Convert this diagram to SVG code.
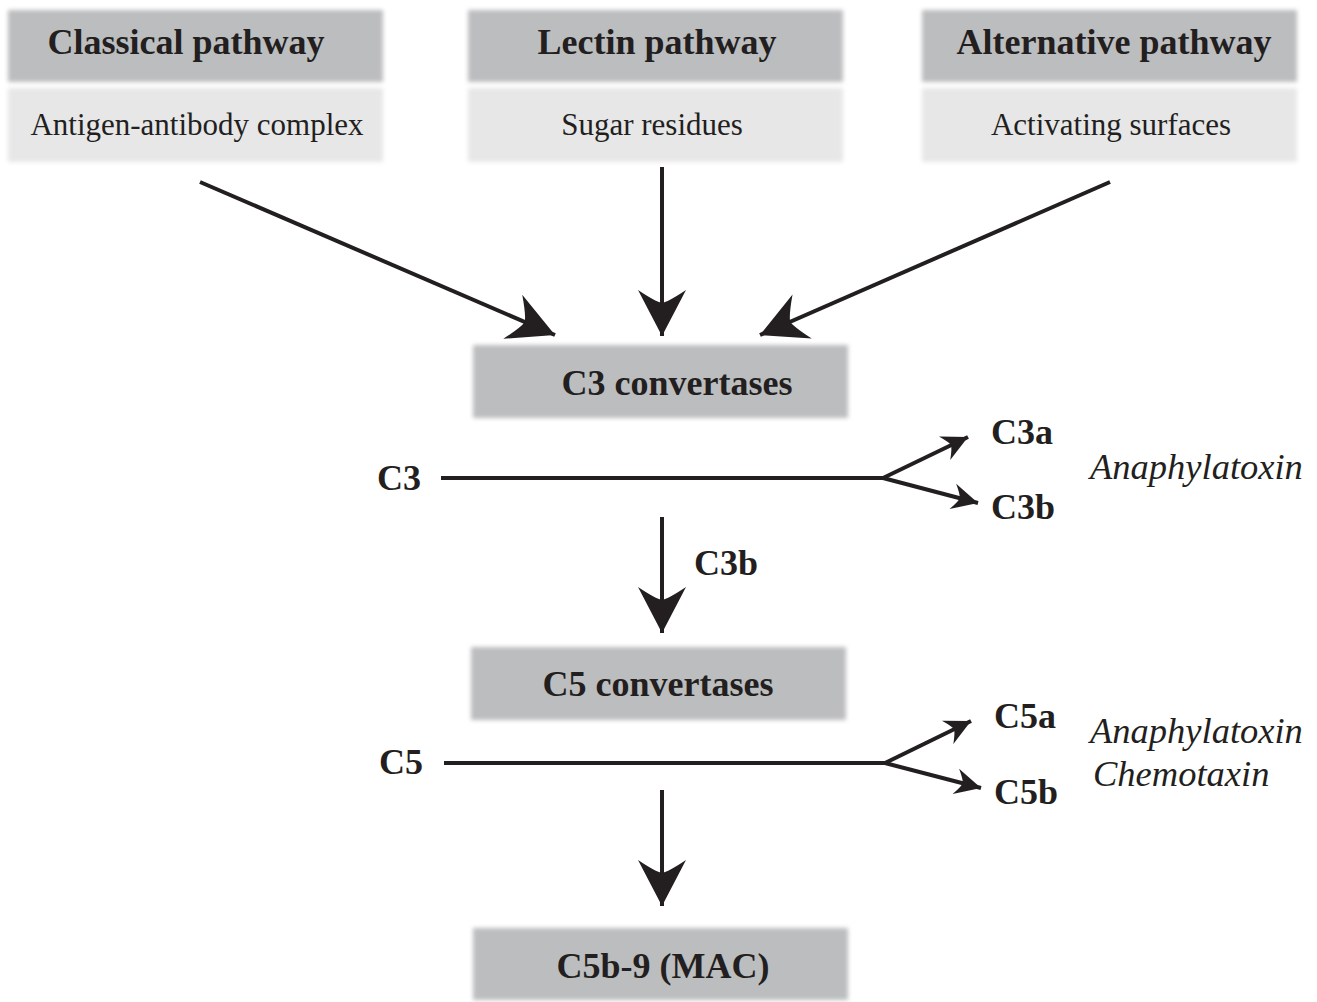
<svg xmlns="http://www.w3.org/2000/svg" width="1317" height="1002" viewBox="0 0 1317 1002">
<defs>
<filter id="soft" x="-5%" y="-20%" width="110%" height="140%"><feGaussianBlur stdDeviation="2.2"/></filter>
<marker id="big" markerUnits="userSpaceOnUse" markerWidth="60" markerHeight="60" viewBox="-5 -30 60 60" refX="46" refY="0" orient="auto">
<path d="M46,0 L0,-24 Q12,-6 13,0 Q12,6 0,24 Z" fill="#231f20"/>
</marker>
<marker id="small" markerUnits="userSpaceOnUse" markerWidth="40" markerHeight="40" viewBox="-5 -20 40 40" refX="26" refY="0" orient="auto">
<path d="M26,0 L0,-13 Q7,-3 7,0 Q7,3 0,13 Z" fill="#231f20"/>
</marker>
</defs>
<style>
.dark{fill:#bcbdbf;filter:url(#soft)}
.light{fill:#e7e7e8;filter:url(#soft)}
.t{font-family:"Liberation Serif","Times New Roman",serif;fill:#231f20}
.b{font-weight:bold;font-size:36px}
.r{font-size:31px}
.i{font-style:italic;font-size:36.5px}
.m{text-anchor:middle}
.ln{stroke:#231f20;stroke-width:4;fill:none}
</style>
<rect width="1317" height="1002" fill="#ffffff"/>
<g id="classical">
<rect class="dark" x="8" y="10" width="375" height="72"/>
<text class="t b m" x="186" y="54">Classical pathway</text>
<rect class="light" x="8" y="88" width="375" height="74"/>
<text class="t r m" x="197" y="135">Antigen-antibody complex</text>
</g>
<g id="lectin">
<rect class="dark" x="468" y="10" width="375" height="72"/>
<text class="t b m" x="657" y="54">Lectin pathway</text>
<rect class="light" x="468" y="88" width="375" height="74"/>
<text class="t r m" x="652" y="135">Sugar residues</text>
</g>
<g id="alternative">
<rect class="dark" x="922" y="10" width="375" height="72"/>
<text class="t b m" x="1114" y="54">Alternative pathway</text>
<rect class="light" x="922" y="88" width="375" height="74"/>
<text class="t r m" x="1111" y="135">Activating surfaces</text>
</g>
<g id="c3conv">
<rect class="dark" x="473" y="345" width="375" height="73"/>
<text class="t b m" x="677" y="395">C3 convertases</text>
</g>
<g id="c5conv">
<rect class="dark" x="471" y="647" width="375" height="73"/>
<text class="t b m" x="658" y="696">C5 convertases</text>
</g>
<g id="mac">
<rect class="dark" x="473" y="928" width="375" height="72"/>
<text class="t b m" x="663" y="978">C5b-9 (MAC)</text>
</g>
<g id="c3split">
<text class="t b" x="377" y="490">C3</text>
<text class="t b" x="991" y="444">C3a</text>
<text class="t b" x="991" y="519">C3b</text>
<text class="t i" x="1090" y="479">Anaphylatoxin</text>
</g>
<g id="c5split">
<text class="t b" x="379" y="774">C5</text>
<text class="t b" x="994" y="728">C5a</text>
<text class="t b" x="994" y="804">C5b</text>
<text class="t i" x="1090" y="743">Anaphylatoxin</text>
<text class="t i" x="1093" y="786">Chemotaxin</text>
</g>
<g id="c3b-label">
<text class="t b" x="694" y="575">C3b</text>
</g>
<g id="connectors">
<line class="ln" x1="200" y1="182" x2="555" y2="335" marker-end="url(#big)"/>
<line class="ln" x1="662" y1="167" x2="662" y2="336" marker-end="url(#big)"/>
<line class="ln" x1="1110" y1="182" x2="760" y2="335" marker-end="url(#big)"/>
<line class="ln" x1="441" y1="478" x2="884" y2="478"/>
<line class="ln" x1="883" y1="478" x2="968" y2="437" marker-end="url(#small)"/>
<line class="ln" x1="883" y1="478" x2="978" y2="503" marker-end="url(#small)"/>
<line class="ln" x1="662" y1="517" x2="662" y2="633" marker-end="url(#big)"/>
<line class="ln" x1="444" y1="763" x2="886" y2="763"/>
<line class="ln" x1="885" y1="763" x2="971" y2="721" marker-end="url(#small)"/>
<line class="ln" x1="885" y1="763" x2="981" y2="788" marker-end="url(#small)"/>
<line class="ln" x1="662" y1="790" x2="662" y2="906" marker-end="url(#big)"/>
</g>
</svg>
